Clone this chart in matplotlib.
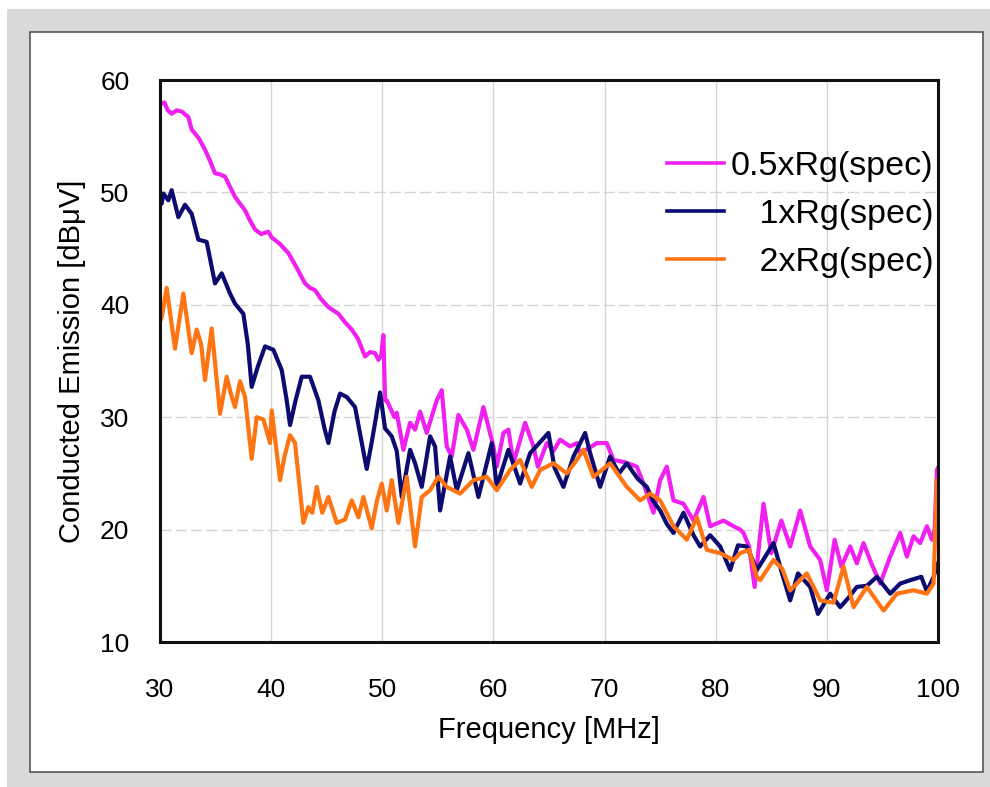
import matplotlib
matplotlib.use('Agg')
import matplotlib.pyplot as plt
from matplotlib.patches import Rectangle

plt.rcParams['font.family'] = ['Liberation Sans', 'DejaVu Sans']

# 0.5xRg(spec)
f_half = [30.0, 30.15, 30.4, 30.7, 31.05, 31.5, 31.95, 32.55, 32.85, 33.5, 34.05, 34.5, 34.95,
          35.4, 35.85, 36.3, 36.75, 37.2, 37.65, 38.1, 38.55, 39.1, 39.75, 40.05, 40.8, 41.55,
          42.3, 43.05, 43.5, 43.95, 44.5, 45.15, 46.05, 46.6, 47.25, 47.8, 48.45, 48.9, 49.35,
          49.65, 49.9, 50.1, 50.25, 50.4, 51.1, 51.3, 51.9, 52.5, 52.95, 53.4, 54.0, 54.9, 55.35,
          55.8, 56.25, 56.85, 57.6, 58.2, 59.1, 60.0, 60.3, 60.9, 61.35, 61.8, 62.85, 63.6, 64.0,
          64.8, 65.4, 66.0, 66.9, 67.5, 67.8, 68.5, 69.3, 70.2, 70.8, 71.8, 72.9, 73.5, 74.4,
          75.0, 75.6, 76.2, 77.1, 78.0, 78.9, 79.5, 80.7, 81.6, 82.2, 82.5, 83.0, 83.5, 84.3,
          85.0, 85.9, 86.7, 87.6, 88.5, 89.4, 90.0, 90.7, 91.3, 92.1, 92.7, 93.3, 94.0, 94.8,
          95.7, 96.6, 97.2, 97.8, 98.4, 99.0, 99.45, 99.7, 99.9, 100.0]
y_half = [58.0, 57.9, 58.0, 57.3, 57.0, 57.3, 57.2, 56.7, 55.6, 54.8, 53.8, 52.8, 51.7,
          51.6, 51.4, 50.5, 49.6, 49.0, 48.4, 47.5, 46.7, 46.3, 46.5, 46.0, 45.4, 44.6,
          43.3, 41.9, 41.5, 41.3, 40.5, 39.8, 39.2, 38.5, 37.8, 37.0, 35.4, 35.8, 35.7,
          35.1, 35.5, 37.3, 31.5, 31.5, 30.0, 30.4, 27.1, 29.5, 28.9, 30.5, 28.6, 31.5, 32.4,
          27.4, 26.5, 30.2, 28.9, 27.1, 30.9, 27.4, 25.6, 28.6, 28.9, 25.9, 29.5, 27.4, 25.6,
          27.7, 27.0, 28.0, 27.4, 27.7, 26.8, 27.2, 27.7, 27.7, 26.2, 26.0, 25.6, 24.1, 21.5,
          24.4, 25.6, 22.6, 22.3, 20.8, 22.9, 20.3, 20.8, 20.3, 20.0, 19.7, 18.5, 14.9, 22.3,
          17.9, 20.8, 18.5, 21.7, 18.5, 17.3, 14.6, 19.1, 16.7, 18.5, 17.0, 18.8, 17.0, 15.2,
          17.6, 19.7, 17.6, 19.4, 18.8, 20.3, 19.1, 20.0, 25.3, 25.5]

# 1xRg(spec)
f_one = [30.0, 30.15, 30.3, 30.75, 31.05, 31.65, 32.25, 32.85, 33.45, 34.2, 34.95, 35.55, 36.3,
         36.75, 37.5, 37.9, 38.25, 38.8, 39.45, 40.2, 40.95, 41.4, 41.7, 42.2, 42.75, 43.5,
         44.25, 44.8, 45.15, 45.7, 46.2, 46.8, 47.55, 48.1, 48.6, 49.0, 49.35, 49.8, 50.25,
         50.85, 51.3, 51.75, 52.5, 52.95, 53.55, 54.3, 54.75, 55.2, 56.1, 56.7, 57.75, 58.65,
         59.85, 60.3, 61.35, 62.4, 63.3, 64.95, 65.5, 66.3, 67.2, 68.25, 68.7, 69.6, 70.5,
         71.3, 72.0, 73.0, 73.8, 74.4, 75.0, 75.6, 76.2, 77.1, 78.0, 78.6, 79.5, 80.4, 81.3,
         82.0, 82.8, 83.7, 84.4, 85.2, 86.0, 86.7, 87.4, 88.5, 89.2, 90.3, 91.2, 92.0, 92.7,
         93.6, 94.5, 95.7, 96.6, 97.5, 98.5, 99.0, 99.6, 100.0]
y_one = [49.5, 49.0, 49.9, 49.3, 50.2, 47.8, 48.9, 48.1, 45.8, 45.6, 41.9, 42.8, 41.0,
         40.1, 39.2, 36.5, 32.7, 34.5, 36.3, 36.0, 34.2, 31.5, 29.3, 31.5, 33.6, 33.6,
         31.5, 29.0, 27.7, 30.5, 32.1, 31.8, 30.9, 28.0, 25.4, 27.5, 29.5, 32.2, 29.0,
         28.3, 27.0, 22.9, 27.1, 25.9, 23.8, 28.3, 27.4, 21.7, 26.5, 23.5, 26.8, 22.9,
         27.7, 23.8, 27.1, 24.1, 26.8, 28.6, 25.5, 23.8, 26.5, 28.6, 26.8, 23.8, 26.5,
         25.0, 25.9, 24.5, 23.8, 22.5, 21.7, 20.5, 19.7, 21.5, 19.5, 18.5, 19.5, 18.5, 16.4,
         18.6, 18.5, 16.4, 17.5, 18.8, 16.0, 13.7, 16.1, 14.9, 12.5, 14.3, 13.1, 14.0, 14.9,
         15.0, 15.8, 14.3, 15.2, 15.5, 15.8, 14.5, 15.8, 17.0]

# 2xRg(spec)
f_two = [30.0, 30.15, 30.6, 31.35, 32.1, 32.85, 33.3, 33.7, 34.05, 34.65, 35.4, 36.0, 36.4,
         36.75, 37.2, 37.65, 38.25, 38.7, 39.3, 39.9, 40.05, 40.8, 41.2, 41.7, 42.15, 42.9,
         43.35, 43.7, 44.1, 44.6, 45.15, 45.9, 46.65, 47.25, 47.85, 48.3, 49.05, 49.5, 49.95,
         50.4, 50.85, 51.45, 52.2, 52.95, 53.55, 54.3, 55.05, 55.8, 57.0, 58.2, 59.4, 60.3,
         61.5, 62.4, 63.45, 64.2, 65.4, 66.6, 67.5, 68.1, 69.0, 70.5, 72.0, 73.2, 74.1, 75.0,
         76.2, 77.4, 78.3, 79.2, 80.4, 81.6, 82.2, 83.0, 83.7, 84.0, 85.2, 86.0, 86.7, 88.2,
         89.4, 90.6, 91.5, 92.4, 93.6, 95.1, 96.3, 97.8, 99.0, 99.6, 99.9, 100.0]
y_two = [38.5, 38.9, 41.5, 36.1, 41.0, 35.7, 37.8, 36.5, 33.3, 37.9, 30.3, 33.6, 32.0,
         30.9, 33.2, 31.8, 26.3, 30.0, 29.8, 27.7, 30.6, 24.4, 26.5, 28.4, 27.7, 20.6,
         22.0, 21.5, 23.8, 21.5, 22.9, 20.6, 20.9, 22.6, 21.1, 22.9, 20.1, 22.5, 24.1,
         21.7, 24.4, 20.6, 24.7, 18.5, 22.9, 23.5, 24.7, 23.8, 23.2, 24.4, 24.7, 23.5,
         25.3, 26.2, 23.8, 25.3, 25.9, 25.0, 26.2, 27.1, 24.7, 25.9, 23.8, 22.6, 23.2, 22.6,
         20.3, 19.1, 21.1, 18.2, 17.9, 17.3, 17.9, 18.2, 15.8, 15.5, 17.3, 16.5, 14.6, 16.1,
         13.7, 13.5, 16.7, 13.1, 14.9, 12.8, 14.3, 14.6, 14.3, 15.2, 24.4, 24.0]

labels = ['0.5xRg(spec)', '   1xRg(spec)', '   2xRg(spec)']
x_ticks = [30, 40, 50, 60, 70, 80, 90, 100]
y_ticks = [10, 20, 30, 40, 50, 60]

fig = plt.figure(figsize=(9.9, 7.87), dpi=100, facecolor='white')
fig.patches.append(Rectangle((7 / 990, 0), 1, 1 - 9 / 787, transform=fig.transFigure,
                             facecolor='#d9d9d9', edgecolor='none', zorder=-2))
fig.patches.append(Rectangle((30 / 990, 1 - 772 / 787), 953 / 990, 740 / 787,
                             transform=fig.transFigure, facecolor='white',
                             edgecolor='#555555', lw=1.2, zorder=-1))

ax = fig.add_axes([160 / 990, 1 - 642 / 787, 778 / 990, 562 / 787])
ax.set_zorder(2)
ax.set_facecolor('white')

ax.plot(f_half, y_half, color='#f020f0', lw=3.0, label=labels[0])
ax.plot(f_one, y_one, color='#0c0c70', lw=3.0, label=labels[1])
ax.plot(f_two, y_two, color='#ff7412', lw=3.0, label=labels[2])

ax.set_xlim(30, 100)
ax.set_ylim(10, 60)
ax.set_xticks(x_ticks)
ax.set_yticks(y_ticks)
ax.tick_params(length=0, labelsize=19)
ax.tick_params(axis='x', pad=26)
ax.tick_params(axis='y', pad=22)

ax.xaxis.grid(True, color='#d4d4d4', lw=1)
ax.yaxis.grid(True, color='#d4d4d4', lw=1, linestyle=(0, (8, 3)))
ax.set_axisbelow(True)
for s in ax.spines.values():
    s.set_linewidth(2.2)
    s.set_color('#111111')

ax.set_xlabel('Frequency [MHz]', fontsize=21, labelpad=10)
ax.set_ylabel('Conducted Emission [dBμV]', fontsize=21, labelpad=10)

leg = ax.legend(loc='upper right', bbox_to_anchor=(1.02, 0.91), frameon=False, fontsize=24.5,
                handlelength=1.68, handletextpad=0.2, labelspacing=0.5, borderaxespad=0.2)
for h in leg.get_lines():
    h.set_linewidth(2.6)

fig.savefig('out.png', dpi=100, facecolor=fig.get_facecolor())
